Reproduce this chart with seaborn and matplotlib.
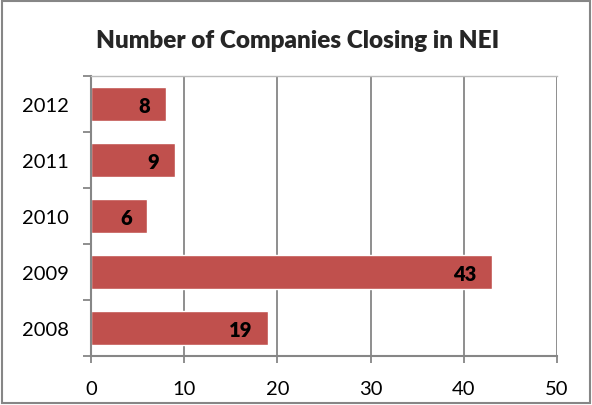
import matplotlib
matplotlib.use("Agg")
import matplotlib.pyplot as plt
import seaborn as sns
import pandas as pd
from matplotlib.ticker import MultipleLocator, FixedLocator
from matplotlib.patches import Rectangle

# datos del grafico (de arriba hacia abajo)
anios = ["2012", "2011", "2010", "2009", "2008"]
empresas = [8, 9, 6, 43, 19]
titulo = "Number of Companies Closing in NEI"

color_barra = "#C0504D"
gris = "#868686"

sns.set_theme(style="white")
plt.rcParams["font.family"] = ["Lato", "DejaVu Sans"]

df = pd.DataFrame({"anio": anios, "empresas": empresas})

fig = plt.figure(figsize=(5.92, 4.06), dpi=100)
ax = fig.add_axes([0.1537, 0.1207, 0.7872, 0.6896])

sns.barplot(data=df, x="empresas", y="anio", order=anios, orient="h",
            color=color_barra, saturation=1, width=0.59, ax=ax)

ax.set_xlim(0, 50)
ax.set_ylim(len(anios) - 0.5, -0.5)
ax.xaxis.set_major_locator(MultipleLocator(10))
ax.grid(axis="x", color=gris, linewidth=1.3)
ax.grid(axis="y", visible=False)
ax.set_axisbelow(True)
ax.set_xlabel("")
ax.set_ylabel("")

# marcas del eje de categorias en los limites
ax.yaxis.set_minor_locator(FixedLocator([i - 0.5 for i in range(len(anios) + 1)]))
ax.tick_params(axis="y", which="major", length=0, pad=16, labelsize=14.5, colors="black")
ax.tick_params(axis="y", which="minor", length=6, width=1.3, color=gris, left=True)
ax.tick_params(axis="x", which="major", length=5, width=1.3, color=gris, bottom=True,
               pad=12, labelsize=14.5, labelcolor="black")

for lado in ["left", "bottom"]:
    ax.spines[lado].set_color(gris)
    ax.spines[lado].set_linewidth(1.5)
ax.spines["top"].set_color("#BBBBBB")
ax.spines["top"].set_linewidth(1)
ax.spines["right"].set_visible(False)

# etiquetas de valor dentro del extremo de cada barra
for i, v in enumerate(empresas):
    ax.annotate(str(v), xy=(v, i), xytext=(-11, -1), textcoords="offset points",
                ha="right", va="center", fontsize=14.5, fontweight="heavy", color="black")

fig.text(0.503, 0.899, titulo, ha="center", va="center", fontsize=17.5, fontweight="heavy")

# borde del area del grafico
fig.patches.append(Rectangle((0.004, 0.005), 0.992, 0.99, transform=fig.transFigure,
                             fill=False, edgecolor=gris, linewidth=1.5))

fig.savefig("out.png", dpi=100)
